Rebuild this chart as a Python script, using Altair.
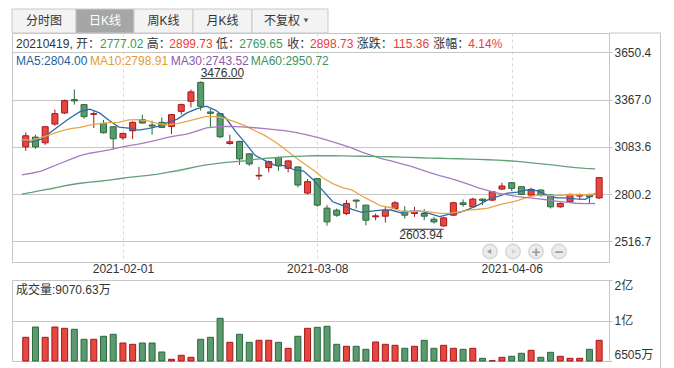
import json
import altair as alt
import pandas as pd

# ---------------- data ----------------
dates = [
    "2021-01-18", "2021-01-19", "2021-01-20", "2021-01-21", "2021-01-22",
    "2021-01-25", "2021-01-26", "2021-01-27", "2021-01-28", "2021-01-29",
    "2021-02-01", "2021-02-02", "2021-02-03", "2021-02-04", "2021-02-05",
    "2021-02-08", "2021-02-09", "2021-02-10", "2021-02-18", "2021-02-19",
    "2021-02-22", "2021-02-23", "2021-02-24", "2021-02-25", "2021-02-26",
    "2021-03-01", "2021-03-02", "2021-03-03", "2021-03-04", "2021-03-05",
    "2021-03-08", "2021-03-09", "2021-03-10", "2021-03-11", "2021-03-12",
    "2021-03-15", "2021-03-16", "2021-03-17", "2021-03-18", "2021-03-19",
    "2021-03-22", "2021-03-23", "2021-03-24", "2021-03-25", "2021-03-26",
    "2021-03-29", "2021-03-30", "2021-03-31", "2021-04-01", "2021-04-02",
    "2021-04-06", "2021-04-07", "2021-04-08", "2021-04-09", "2021-04-12",
    "2021-04-13", "2021-04-14", "2021-04-15", "2021-04-16", "2021-04-19",
]
opens = [
    3083.4, 3141.7, 3107.6, 3220.1, 3286.5, 3366.8, 3336.7, 3278.4, 3224.1, 3204.0,
    3137.7, 3179.9, 3246.3, 3214.1, 3230.2, 3206.1, 3296.5, 3356.8, 3470.0, 3292.5,
    3282.4, 3103.5, 3115.6, 3041.2, 2908.6, 2958.8, 3019.1, 2954.8, 2962.8, 2806.1,
    2892.5, 2715.6, 2703.6, 2683.5, 2763.9, 2733.7, 2663.4, 2667.4, 2713.6, 2697.5,
    2683.5, 2683.5, 2649.3, 2609.1, 2673.4, 2747.8, 2723.7, 2769.9, 2763.9, 2830.2,
    2868.4, 2844.2, 2794.0, 2824.2, 2794.0, 2723.7, 2753.8, 2788.0, 2798.0, 2777.02,
]
highs = [
    3169.9, 3155.8, 3206.0, 3306.5, 3366.8, 3427.2, 3340.7, 3296.5, 3244.2, 3206.0,
    3167.9, 3236.2, 3276.4, 3240.2, 3260.3, 3280.4, 3342.7, 3427.2, 3476.0, 3312.6,
    3286.0, 3155.8, 3120.0, 3045.2, 2962.8, 3001.0, 3025.2, 3001.0, 2965.0, 2890.5,
    2895.0, 2733.7, 2713.6, 2763.9, 2766.0, 2736.0, 2683.5, 2723.7, 2757.8, 2727.7,
    2723.7, 2709.6, 2663.0, 2663.4, 2753.8, 2767.9, 2777.9, 2774.0, 2818.1, 2868.4,
    2872.0, 2848.3, 2838.2, 2828.0, 2798.0, 2749.8, 2804.1, 2804.0, 2802.0, 2899.73,
]
lows = [
    3059.3, 3071.4, 3095.5, 3210.1, 3280.4, 3336.7, 3252.3, 3196.0, 3163.8, 3071.4,
    3123.6, 3129.7, 3222.1, 3155.8, 3196.0, 3159.8, 3276.4, 3320.6, 3300.5, 3200.0,
    3135.7, 3095.5, 2974.9, 2968.9, 2884.4, 2930.7, 2938.7, 2930.7, 2840.2, 2798.0,
    2723.7, 2610.0, 2663.4, 2673.4, 2713.6, 2612.0, 2643.2, 2629.2, 2709.6, 2653.3,
    2663.4, 2643.2, 2623.2, 2603.94, 2670.0, 2723.7, 2720.0, 2733.7, 2757.8, 2824.2,
    2818.1, 2794.0, 2790.0, 2784.0, 2713.6, 2717.6, 2750.0, 2763.9, 2743.8, 2769.65,
]
closes = [
    3149.8, 3083.4, 3204.0, 3282.4, 3360.8, 3358.8, 3264.3, 3282.4, 3167.9, 3131.7,
    3163.8, 3230.2, 3226.2, 3208.1, 3200.0, 3276.4, 3336.7, 3413.1, 3326.7, 3284.4,
    3143.7, 3113.6, 3011.1, 2980.9, 2912.6, 2995.0, 2968.9, 2999.0, 2854.3, 2874.4,
    2733.7, 2633.2, 2673.4, 2743.8, 2757.8, 2643.2, 2669.4, 2703.6, 2747.8, 2673.4,
    2693.5, 2667.4, 2633.2, 2657.3, 2747.8, 2737.7, 2769.9, 2761.8, 2814.1, 2848.3,
    2834.2, 2798.0, 2828.2, 2794.0, 2723.7, 2743.8, 2798.0, 2794.0, 2783.37, 2898.73,
]
# volume in 万 (ten-thousands)
volumes = [
    8550, 9439, 8550, 9439, 9327, 9241, 8378, 8378, 8637, 8809,
    8058, 7946, 8058, 8058, 7282, 6652, 6997, 6824, 8378, 8550,
    10190, 8119, 8809, 8119, 8291, 8291, 8119, 7601, 8637, 9327,
    9413, 9500, 7946, 7774, 7774, 7515, 8145, 7946, 7860, 7601,
    7774, 8291, 7601, 7860, 7601, 7515, 7601, 6738, 6530, 6824,
    6911, 7170, 7428, 6824, 7256, 6911, 6738, 6738, 7515, 8291,
]
ma5 = [
    3122.0, 3112.0, 3130.0, 3172.0, 3216.1, 3257.9, 3294.1, 3309.7, 3286.8, 3241.0,
    3202.0, 3195.2, 3184.0, 3192.0, 3205.7, 3228.2, 3249.5, 3286.9, 3310.6, 3327.5,
    3300.9, 3256.3, 3175.9, 3106.7, 3032.4, 3002.6, 2973.7, 2971.3, 2946.0, 2938.3,
    2886.1, 2818.9, 2753.8, 2731.7, 2708.4, 2690.3, 2697.5, 2703.6, 2704.4, 2687.5,
    2697.5, 2697.1, 2683.1, 2665.0, 2679.8, 2688.7, 2709.2, 2734.9, 2766.3, 2786.4,
    2805.7, 2811.3, 2824.6, 2820.5, 2795.6, 2777.5, 2777.5, 2770.7, 2768.6, 2804.00,
]
ma10 = [
    3126.0, 3122.0, 3138.0, 3158.0, 3178.0, 3192.0, 3200.0, 3213.0, 3222.0, 3228.6,
    3230.0, 3244.6, 3246.9, 3239.4, 3223.3, 3215.1, 3222.3, 3235.4, 3251.3, 3266.6,
    3264.6, 3252.9, 3231.4, 3208.7, 3179.9, 3151.8, 3115.0, 3073.6, 3026.4, 2985.4,
    2944.4, 2896.3, 2862.5, 2838.8, 2823.4, 2788.2, 2758.2, 2728.7, 2718.0, 2697.9,
    2693.9, 2697.3, 2693.3, 2684.7, 2683.7, 2693.1, 2703.2, 2709.0, 2715.6, 2733.1,
    2747.2, 2760.2, 2779.7, 2793.4, 2791.0, 2791.6, 2794.4, 2797.6, 2794.6, 2798.91,
]
ma30 = [
    2915.0, 2925.0, 2938.0, 2962.0, 2985.0, 3008.0, 3030.0, 3045.0, 3055.0, 3065.0,
    3078.0, 3090.0, 3100.0, 3112.0, 3125.0, 3140.0, 3150.0, 3160.0, 3178.0, 3197.0,
    3203.0, 3206.0, 3205.0, 3202.0, 3198.0, 3193.0, 3187.0, 3180.0, 3172.0, 3160.2,
    3146.3, 3131.3, 3113.6, 3095.6, 3075.5, 3051.7, 3031.9, 3012.6, 2998.6, 2983.3,
    2967.6, 2948.8, 2929.1, 2910.7, 2895.6, 2877.7, 2858.8, 2837.1, 2820.0, 2805.5,
    2795.1, 2784.6, 2778.5, 2772.3, 2766.0, 2757.6, 2751.9, 2745.1, 2742.7, 2743.52,
]
ma60 = [
    2800.0, 2810.0, 2822.0, 2832.0, 2845.0, 2856.0, 2865.0, 2872.0, 2877.0, 2884.0,
    2892.0, 2900.0, 2906.0, 2912.0, 2920.0, 2930.0, 2940.0, 2952.0, 2965.0, 2975.0,
    2983.0, 2990.0, 2995.0, 3000.0, 3008.0, 3014.0, 3018.0, 3023.0, 3026.0, 3028.0,
    3030.0, 3030.0, 3030.0, 3029.0, 3028.0, 3027.0, 3026.0, 3025.0, 3024.0, 3022.0,
    3020.0, 3018.0, 3016.0, 3015.0, 3013.0, 3012.0, 3010.0, 3008.0, 3006.0, 3004.0,
    3000.0, 2996.0, 2990.0, 2984.0, 2978.0, 2972.0, 2965.0, 2959.0, 2954.0, 2950.72,
]

price_ticks = [2516.7, 2800.2, 3083.6, 3367.0, 3650.4]
price_domain = [2392.6, 3766.2]
volume_ticks = [6505, 10000, 13495]
volume_tick_labels = ["6505万", "1亿", "2亿"]
date_ticks = ["2021-02-01", "2021-03-08", "2021-04-06"]
ma_names = ["MA5", "MA10", "MA30", "MA60"]
tab_names = ["分时图", "日K线", "周K线", "月K线", "不复权"]
volume_title = "成交量:9070.63万"

# ---------------- styles / layout ----------------
FONT = "Liberation Sans, Noto Sans CJK SC, sans-serif"
TXT = "#333333"
GRID = "#c6c6c6"
RED_FILL, RED_LINE = "#e8473d", "#a3171d"
GREEN_FILL, GREEN_LINE = "#5b9a6e", "#2a683b"
RED_TXT, GREEN_TXT = "#ee3b3b", "#3a9a5c"
MA_LINE = ["#2e6aa8", "#e9a64a", "#a77bc0", "#62a279"]
MA_TXT = ["#275f9c", "#e39a35", "#8c5aa8", "#3f915d"]
W, H, VH = 597, 229, 81

n = len(dates)
kdf = pd.DataFrame({"i": list(range(n)), "date": dates, "open": opens, "high": highs,
                    "low": lows, "close": closes, "vol": volumes})
madf = pd.concat([pd.DataFrame({"i": list(range(n)), "name": nm, "value": vals})
                  for nm, vals in zip(ma_names, [ma5, ma10, ma30, ma60])], ignore_index=True)

x_scale = alt.Scale(domain=[-0.9, 59.5], nice=False, zero=False)
y_scale = alt.Scale(domain=price_domain, nice=False, zero=False)
x_axis = alt.Axis(values=[dates.index(d) for d in date_ticks],
                  labelExpr=json.dumps(dates) + "[datum.value]",
                  grid=True, gridDash=[3, 3], gridColor="#d9d9d9", ticks=False, domain=False,
                  labelPadding=1, labelFontSize=12, labelColor=TXT, labelFont=FONT, title=None)
y_axis = alt.Axis(orient="right", values=price_ticks, format=".1f", grid=True, gridColor=GRID,
                  tickSize=3, tickColor=GRID, domain=False, labelPadding=2, labelFontSize=12,
                  labelColor=TXT, labelFont=FONT, title=None)

X = alt.X("i:Q", scale=x_scale, axis=x_axis)


def Yp(f):
    return alt.Y(f + ":Q", scale=y_scale, axis=y_axis)


up = "datum.close >= datum.open"
stroke_c = alt.condition(up, alt.value(RED_LINE), alt.value(GREEN_LINE))
fill_c = alt.condition(up, alt.value(RED_FILL), alt.value(GREEN_FILL))

ONE = pd.DataFrame({"k": [0]})


def label(text, x, y, color=TXT, size=12, align="left", baseline="middle", weight="normal"):
    return alt.Chart(ONE).mark_text(text=text, align=align, baseline=baseline, fontSize=size,
                                    font=FONT, color=color, fontWeight=weight).encode(
        x=alt.value(x), y=alt.value(y))


def rect(x0, x1, y0, y1, fill, stroke):
    return alt.Chart(ONE).mark_rect(fill=fill, stroke=stroke, strokeWidth=1).encode(
        x=alt.value(x0), x2=alt.value(x1), y=alt.value(y0), y2=alt.value(y1))


def dot(x, y, size, fill, shape="circle", stroke=None):
    kw = dict(shape=shape, size=size, filled=True, fill=fill, opacity=1)
    if stroke:
        kw.update(stroke=stroke, strokeWidth=1)
    return alt.Chart(ONE).mark_point(**kw).encode(x=alt.value(x), y=alt.value(y))


# ---------------- price panel ----------------
wicks = alt.Chart(kdf).mark_rule(strokeWidth=1).encode(x=X, y=Yp("low"), y2="high", color=stroke_c)
bodies = alt.Chart(kdf).mark_bar(size=6, strokeWidth=1).encode(
    x=X, y=Yp("open"), y2="close", fill=fill_c, stroke=stroke_c)
lines = alt.Chart(madf).mark_line(strokeWidth=1.3, xOffset=-4).encode(
    x=X, y=Yp("value"), order="i:Q",
    color=alt.Color("name:N", scale=alt.Scale(domain=ma_names, range=MA_LINE), legend=None))

imax = highs.index(max(highs))
imin = lows.index(min(lows))
ann_max = pd.DataFrame({"i": [imax], "i2": [imax + 4.3], "v": [highs[imax]], "t": [f"{highs[imax]:.2f}"]})
ann_min = pd.DataFrame({"i": [imin], "i2": [imin - 4.3], "v": [lows[imin]], "t": [f"{lows[imin]:.2f}"]})
max_text = alt.Chart(ann_max).mark_text(align="left", baseline="alphabetic", dy=-4, fontSize=12,
                                        font=FONT, color=TXT).encode(x=X, y=Yp("v"), text="t:N")
max_line = alt.Chart(ann_max).mark_rule(color=TXT, yOffset=-3).encode(x=X, x2="i2", y=Yp("v"))
min_text = alt.Chart(ann_min).mark_text(align="right", baseline="top", dy=3, dx=-1, fontSize=12,
                                        font=FONT, color=TXT).encode(x=X, y=Yp("v"), text="t:N")
min_line = alt.Chart(ann_min).mark_rule(color=TXT, yOffset=2.5).encode(x=X, x2="i2", y=Yp("v"))

chg = closes[-1] - closes[-2]
pct = chg / closes[-2] * 100
header = [
    (dates[-1].replace("-", "") + ", 开：", 4, TXT), (f"{opens[-1]:.2f}", 88, GREEN_TXT),
    ("高：", 134.7, TXT), (f"{highs[-1]:.2f}", 157.3, RED_TXT),
    ("低：", 204, TXT), (f"{lows[-1]:.2f}", 227.3, GREEN_TXT),
    ("收：", 275.3, TXT), (f"{closes[-1]:.2f}", 298, RED_TXT),
    ("涨跌：", 344.7, TXT), (f"{chg:.2f}", 381.3, RED_TXT),
    ("涨幅：", 421.3, TXT), (f"{pct:.2f}%", 456.3, RED_TXT),
]
header_layers = [label(t, x, 11, c) for t, x, c in header]
ma_x = [4, 78, 158.7, 238.7]
ma_layers = [label(f"{nm}:{vals[-1]:.2f}", x, 27.5, c)
             for nm, vals, x, c in zip(ma_names, [ma5, ma10, ma30, ma60], ma_x, MA_TXT)]

# tabs above the plot
tab_edges = [(0, 64), (64, 122), (122, 181), (181, 240), (240, 316)]
tab_layers = []
for k, (nm, (a, b)) in enumerate(zip(tab_names, tab_edges)):
    sel = k == 1
    tab_layers.append(rect(a, b, -24, 0, "#a6a6a6" if sel else "#f3f3f3", "#c9c9c9"))
    cx = (a + b) / 2 if k < 4 else 270
    tab_layers.append(label(nm, cx, -12, "#ffffff" if sel else TXT, size=12, align="center"))
tab_layers.append(dot(294, -12.5, 22, "#555555", shape="triangle-down"))

# navigation buttons
btn_layers = []
for bx, g in zip([478, 501, 524, 547], ["l", "r", "+", "-"]):
    btn_layers.append(dot(bx, 218.5, 250, "#d6d6d6"))
    btn_layers.append(dot(bx, 218.5, 170, "#ececec"))
    if g == "l":
        btn_layers.append(dot(bx - 1, 218.5, 26, "#9c9c9c", shape="triangle-left"))
    elif g == "r":
        btn_layers.append(dot(bx + 1, 218.5, 26, "#cfcfcf", shape="triangle-right"))
    else:
        btn_layers.append(label("+" if g == "+" else "−", bx, 219, "#9c9c9c", size=15,
                                align="center", weight="bold"))

frame = [
    alt.Chart(ONE).mark_rule(color=GRID).encode(x=alt.value(W), x2=alt.value(648.5), y=alt.value(0)),
    alt.Chart(ONE).mark_rule(color=GRID).encode(x=alt.value(648.5), y=alt.value(0), y2=alt.value(340)),
]

price = alt.layer(wicks, bodies, lines, max_line, max_text, min_line, min_text,
                  *header_layers, *ma_layers, *tab_layers, *btn_layers, *frame
                  ).properties(width=W, height=H)

# ---------------- volume panel ----------------
vol_label_expr = " : ".join(
    [f"datum.value == {v} ? '{t}'" for v, t in zip(volume_ticks, volume_tick_labels)]) + " : ''"
v_axis = alt.Axis(orient="right", values=volume_ticks, labelExpr=vol_label_expr, labelFlush=True,
                  grid=True, gridColor=GRID, tickSize=3, tickColor=GRID, domain=False,
                  labelPadding=2, labelFontSize=12, labelColor=TXT, labelFont=FONT, title=None)
vol_bars = alt.Chart(kdf).mark_bar(size=6, strokeWidth=1).encode(
    x=alt.X("i:Q", scale=x_scale, axis=None),
    y=alt.Y("vol:Q", scale=alt.Scale(domain=[volume_ticks[0], volume_ticks[-1]], nice=False, zero=False),
            axis=v_axis),
    y2=alt.datum(volume_ticks[0]),
    fill=fill_c, stroke=stroke_c)
volume = alt.layer(vol_bars, label(volume_title, 4, 9.5)).properties(width=W, height=VH)

chart = alt.vconcat(price, volume, spacing=18, bounds="flush").resolve_scale(
    x="independent", y="independent", color="independent"
).properties(
    padding={"left": 3, "top": 0, "right": 2, "bottom": 0}, background="white"
).configure_view(stroke=GRID, strokeWidth=1)

chart.save("out.html", embed_options={"renderer": "svg", "actions": False})
